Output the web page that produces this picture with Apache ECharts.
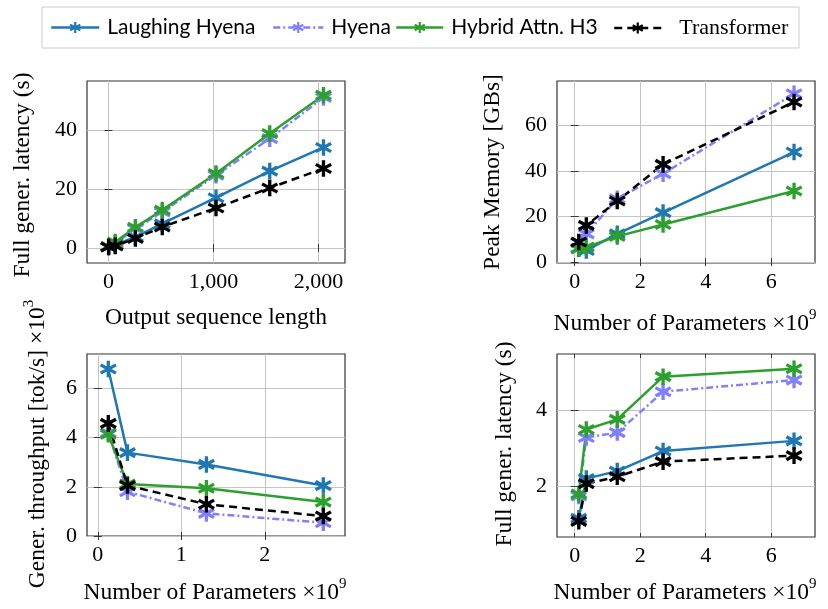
<!DOCTYPE html>
<html>
<head>
<meta charset="utf-8">
<script src="https://cdn.jsdelivr.net/npm/echarts@6/dist/echarts.min.js"></script>
<style>
  html, body { margin: 0; padding: 0; background: #fff; }
  #chart { width: 828px; height: 609px; }
</style>
</head>
<body>
<div id="chart"></div>
<script>
// data
const seqLen = [1, 64, 256, 512, 1024, 1536, 2048];
const params = [0.125, 0.355, 1.3, 2.7, 6.7];
const paramsThr = [0.125, 0.355, 1.3, 2.7];

const latLH = [0.3, 1.0, 3.7, 8.2, 17.0, 26.0, 34.0];
const latHyena = [0.5, 1.6, 6.5, 12.2, 24.6, 37.0, 50.9];
const latH3 = [0.5, 2.0, 7.0, 12.8, 25.2, 38.7, 51.7];
const latTrans = [0.3, 0.7, 3.2, 7.1, 13.5, 20.3, 26.9];

const memLH = [5.9, 5.1, 12.4, 21.7, 48.3];
const memHyena = [8.5, 12.4, 27.8, 38.8, 73.9];
const memH3 = [5.9, 6.6, 11.3, 16.5, 31.2];
const memTrans = [8.8, 16.1, 26.8, 42.9, 70.3];

const thrLH = [6.79, 3.39, 2.91, 2.05];
const thrHyena = [4.2, 1.8, 0.92, 0.54];
const thrH3 = [4.14, 2.11, 1.94, 1.38];
const thrTrans = [4.58, 2.05, 1.29, 0.81];

const plLH = [1.15, 2.20, 2.40, 2.93, 3.20];
const plHyena = [1.74, 3.29, 3.42, 4.50, 4.81];
const plH3 = [1.79, 3.50, 3.77, 4.90, 5.11];
const plTrans = [1.07, 2.07, 2.25, 2.65, 2.81];

const seqTicks = [0, 1000, 2000];
const paramTicks = [0, 2, 4, 6];
const thrXTicks = [0, 1, 2];
const latTicks = [0, 20, 40];
const memTicks = [0, 20, 40, 60];
const thrTicks = [0, 2, 4, 6];
const plTicks = [2, 4];

const names = ['Laughing Hyena', 'Hyena', 'Hybrid Attn. H3', 'Transformer'];

// asterisk mark: three rotated bars
const STAR = 'path://M80 0L120 0L120 200L80 200Z M182.6 32.7L202.6 67.3L17.4 167.3L-2.6 132.7Z M202.6 132.7L182.6 167.3L-2.6 67.3L17.4 32.7Z';
const SERIF = 'Liberation Serif';

const look = {
  'Laughing Hyena': { color: '#1f77b4', type: 'solid' },
  'Hyena': { color: '#8080ff', type: [7, 3, 2, 3] },
  'Hybrid Attn. H3': { color: '#2ca02c', type: 'solid' },
  'Transformer': { color: '#000000', type: [8, 5] }
};

const grids = [
  { left: 87, top: 81, width: 258, height: 182 },
  { left: 557, top: 81, width: 258, height: 182 },
  { left: 87, top: 354, width: 258, height: 182 },
  { left: 557, top: 354, width: 258, height: 183 }
];

function comma(v) {
  return String(v).replace(/\B(?=(\d{3})+(?!\d))/g, ',');
}

const labelFont = { fontFamily: SERIF, fontSize: 22, color: '#000' };

function mainX(gi, min, max, ticks, fmt) {
  return {
    gridIndex: gi, type: 'value', min: min, max: max, position: 'bottom',
    axisLine: { show: false },
    axisTick: { inside: true, length: 4, customValues: ticks, lineStyle: { color: '#333' } },
    axisLabel: Object.assign({ customValues: ticks, formatter: fmt, margin: 8 }, labelFont),
    splitLine: { show: true, lineStyle: { color: '#c4c4c4', width: 1 } }
  };
}
function topX(gi, min, max, ticks) {
  return {
    gridIndex: gi, type: 'value', min: min, max: max, position: 'top',
    axisLine: { show: false },
    axisTick: { inside: true, length: 4, customValues: ticks, lineStyle: { color: '#333' } },
    axisLabel: { show: false, customValues: ticks },
    splitLine: { show: false }
  };
}
function mainY(gi, min, max, ticks) {
  return {
    gridIndex: gi, type: 'value', min: min, max: max, position: 'left',
    axisLine: { show: false },
    axisTick: { inside: true, length: 4, customValues: ticks, lineStyle: { color: '#333' } },
    axisLabel: Object.assign({ customValues: ticks, margin: 10 }, labelFont),
    splitLine: { show: true, lineStyle: { color: '#c4c4c4', width: 1 } }
  };
}
function rightY(gi, min, max, ticks) {
  return {
    gridIndex: gi, type: 'value', min: min, max: max, position: 'right',
    axisLine: { show: false },
    axisTick: { inside: true, length: 4, customValues: ticks, lineStyle: { color: '#333' } },
    axisLabel: { show: false, customValues: ticks },
    splitLine: { show: false }
  };
}

function line(name, gi, xs, ys) {
  const s = look[name];
  return {
    type: 'line', name: name, xAxisIndex: gi, yAxisIndex: gi,
    data: xs.map((x, i) => [x, ys[i]]),
    symbol: STAR, symbolSize: 17, symbolKeepAspect: true,
    itemStyle: { color: s.color },
    lineStyle: { color: s.color, width: 2.5, type: s.type },
    emphasis: { disabled: true },
    clip: false
  };
}

const panels = [
  [seqLen, [latLH, latHyena, latH3, latTrans]],
  [params, [memLH, memHyena, memH3, memTrans]],
  [paramsThr, [thrLH, thrHyena, thrH3, thrTrans]],
  [params, [plLH, plHyena, plH3, plTrans]]
];
const series = [];
panels.forEach((p, gi) => {
  p[1].forEach((ys, k) => series.push(line(names[k], gi, p[0], ys)));
});

const legendLeft = [50, 272, 395, 613];
const legendW = [48, 50, 47, 47];
const legends = names.map((n, i) => ({
  data: [n], left: legendLeft[i], top: 17, orient: 'horizontal',
  itemWidth: legendW[i], itemHeight: 14, itemGap: 0, padding: 0,
  selectedMode: false,
  lineStyle: { width: 2.5 },
  formatter: i === 3 ? '{t|{name}}' : '{s|{name}}',
  textStyle: {
    color: '#000',
    rich: {
      s: { fontFamily: 'Lato', fontSize: 21, color: '#000', padding: [0, 0, 0, 3] },
      t: { fontFamily: SERIF, fontSize: 22, color: '#000', padding: [0, 0, 0, 13] }
    }
  }
}));

function title(x, y, text, rot) {
  return {
    type: 'text', x: x, y: y, rotation: rot ? Math.PI / 2 : 0, silent: true,
    style: {
      text: text, fill: '#000', align: 'center', verticalAlign: 'middle',
      fontFamily: SERIF, fontSize: 23.5,
      rich: {
        n: { fontFamily: SERIF, fontSize: 23.5, lineHeight: 28, verticalAlign: 'bottom' },
        s: { fontFamily: SERIF, fontSize: 15, lineHeight: 15, verticalAlign: 'top' }
      }
    }
  };
}

const option = {
  animation: false,
  backgroundColor: '#fff',
  textStyle: { fontFamily: SERIF },
  grid: grids.map(g => Object.assign({ show: true, borderColor: '#333', borderWidth: 1.2, backgroundColor: 'transparent' }, g)),
  xAxis: [
    mainX(0, -205, 2253, seqTicks, v => comma(v)),
    mainX(1, -0.54, 7.34, paramTicks),
    mainX(2, -0.13, 2.96, thrXTicks),
    mainX(3, -0.54, 7.34, paramTicks),
    topX(0, -205, 2253, seqTicks),
    topX(1, -0.54, 7.34, paramTicks),
    topX(2, -0.13, 2.96, thrXTicks),
    topX(3, -0.54, 7.34, paramTicks)
  ],
  yAxis: [
    mainY(0, -5.1, 56.5, latTicks),
    mainY(1, -0.4, 79.5, memTicks),
    mainY(2, 0, 7.4, thrTicks),
    mainY(3, 0.655, 5.5, plTicks),
    rightY(0, -5.1, 56.5, latTicks),
    rightY(1, -0.4, 79.5, memTicks),
    rightY(2, 0, 7.4, thrTicks),
    rightY(3, 0.655, 5.5, plTicks)
  ],
  legend: legends,
  series: series,
  graphic: [
    { type: 'rect', silent: true, shape: { x: 42, y: 7, width: 757, height: 41 }, style: { fill: 'none', stroke: '#cccccc', lineWidth: 1 } },
    title(216, 318, 'Output sequence length'),
    title(685, 322, '{n|Number of Parameters ×10}{s|9}'),
    title(215, 591, '{n|Number of Parameters ×10}{s|9}'),
    title(685, 591, '{n|Number of Parameters ×10}{s|9}'),
    title(23, 175, 'Full gener. latency (s)', true),
    title(493, 172, 'Peak Memory [GBs]', true),
    title(36, 444, '{n|Gener. throughput [tok/s] ×10}{s|3}', true),
    title(505, 444, 'Full gener. latency (s)', true)
  ]
};

const chart = echarts.init(document.getElementById('chart'), null, { renderer: 'canvas' });
chart.setOption(option);
</script>
</body>
</html>
